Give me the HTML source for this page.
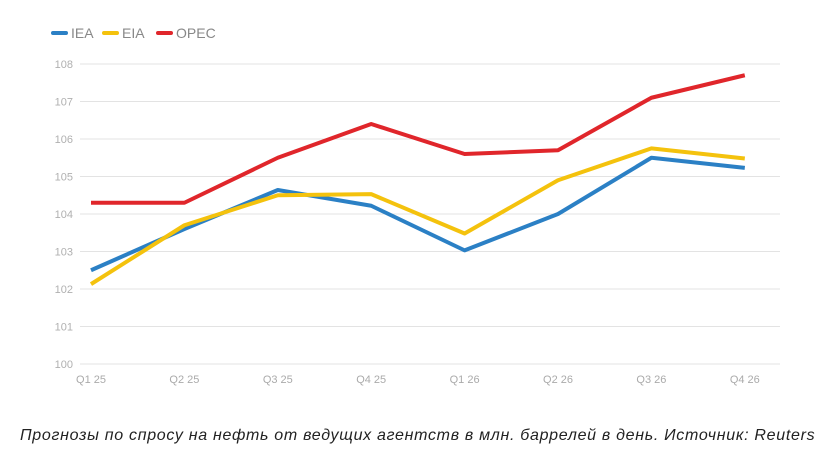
<!DOCTYPE html>
<html><head><meta charset="utf-8"><style>
body{margin:0;background:#fff;width:829px;height:456px;overflow:hidden;font-family:"Liberation Sans",sans-serif}
.cap{position:absolute;left:20px;top:427px;font-style:italic;font-size:16px;letter-spacing:0.7px;color:#222;white-space:nowrap}
</style></head><body>
<svg id="ch" width="829" height="410" style="position:absolute;left:0;top:0"></svg>
<div class="cap">Прогнозы по спросу на нефть от ведущих агентств в млн. баррелей в день. Источник: Reuters</div>
<script>
const categories=["Q1 25","Q2 25","Q3 25","Q4 25","Q1 26","Q2 26","Q3 26","Q4 26"];
const iea=[102.5,103.6,104.64,104.22,103.03,104.0,105.5,105.23];
const eia=[102.13,103.7,104.5,104.53,103.48,104.9,105.75,105.48];
const opec=[104.3,104.3,105.5,106.4,105.6,105.7,107.1,107.7];
const yTicks=[100,101,102,103,104,105,106,107,108];
const seriesNames=["IEA","EIA","OPEC"];
const colors=["#2b80c5","#f4c20d","#e0262b"];
const svg=document.getElementById('ch');const NS="http://www.w3.org/2000/svg";
const y=v=>364-(v-100)*37.5;
const x=i=>91+i*93.4;
function mk(t,a){const e=document.createElementNS(NS,t);for(const k in a)e.setAttribute(k,a[k]);svg.appendChild(e);return e;}
yTicks.forEach(v=>{
 const l=mk('line',{x1:80,x2:780,y1:y(v),y2:y(v),stroke:'#e3e3e3','stroke-width':1});
 
 
 const t=mk('text',{x:73,y:y(v)+4,'text-anchor':'end','font-size':11,fill:'#b0b0b0'});t.textContent=v;
 
 
});
categories.forEach((c,i)=>{
 const t=mk('text',{x:x(i),y:383,'text-anchor':'middle','font-size':11,fill:'#aaa'});t.textContent=c;
 
 
});
[iea,eia,opec].forEach((s,k)=>{
 const p=mk('polyline',{points:s.map((v,i)=>x(i)+','+y(v)).join(' '),fill:'none',stroke:colors[k],'stroke-width':4,'stroke-linejoin':'round'});
 
 
});
const lx=[53,104,158];
seriesNames.forEach((n,k)=>{
 const l=mk('line',{x1:lx[k],x2:lx[k]+13,y1:33,y2:33,stroke:colors[k],'stroke-width':4,'stroke-linecap':'round'});
 
 
 const t=mk('text',{x:lx[k]+18,y:38,'font-size':14,fill:'#888'});t.textContent=n;
 
 
});
</script>
</body></html>
